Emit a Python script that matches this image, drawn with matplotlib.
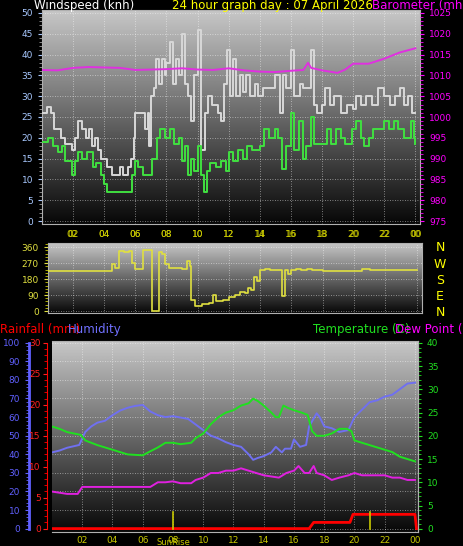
import numpy as np
import matplotlib
matplotlib.use("Agg")
import matplotlib.pyplot as plt

# ---------------- data ----------------
gust_h = [0,0.3,0.6,0.8,1.2,1.5,1.9,2.1,2.3,2.6,2.8,3.0,3.2,3.4,3.6,3.8,4.2,4.5,5.0,5.2,5.5,5.7,5.9,6.0,6.4,6.6,6.8,6.9,7.0,7.2,7.3,7.5,7.7,7.9,8.0,8.2,8.4,8.6,8.8,9.0,9.2,9.4,9.6,9.8,10.0,10.2,10.5,10.7,10.9,11.3,11.5,11.7,11.9,12.1,12.3,12.5,12.7,12.9,13.1,13.4,13.7,13.9,14.2,14.7,15.0,15.3,15.5,15.7,16.0,16.2,16.6,16.8,17.3,17.5,17.7,18.0,18.2,18.5,18.8,19.2,19.6,20.0,20.2,20.5,20.8,21.2,21.6,22.0,22.4,22.7,23.0,23.3,23.5,23.8,24.0]
gust_v = [26,27.5,26,22,20,18.5,17,20,24,22,20,22,18,20,17,15,13,11,13,11,13,15,20,26,26,22,26,18,30,32,39,33,39,35,38,43,33,39,35,45,33,30,24,35,46,17,26,30,28,26,24,33,41,30,39,30,35,31,35,30,33,30,32,32,35,26,35,32,41,30,33,32,41,28,26,28,32,28,30,26,28,27,30,28,30,28,32,30,28,30,32,28,30,26,26]
avg_h = [0,0.4,0.7,1.0,1.3,1.5,1.9,2.1,2.3,2.6,2.9,3.3,3.5,3.8,4.0,4.2,5.0,5.6,5.8,6.0,6.2,6.5,7.1,7.4,7.6,7.9,8.2,8.5,8.8,9.0,9.2,9.4,9.6,9.8,10.0,10.2,10.4,10.6,10.8,11.2,11.5,11.8,12.0,12.3,12.6,12.9,13.2,13.5,14.0,14.3,14.6,15.0,15.2,15.4,15.7,16.0,16.2,16.5,16.8,17.0,17.3,17.5,18.0,18.3,18.6,18.9,19.2,19.5,19.9,20.2,20.5,20.7,21.0,21.3,21.8,22.0,22.3,22.6,22.9,23.3,23.7,23.9,24.0]
avg_v = [19,20,18,16.5,18,14.5,11,14.5,16.5,15,16.5,13,14,11,9,7,7,7,11,14.5,13,11,15,20,22,20,22,18.5,20,14.5,18,11,15,12,18,11,7,12,14,13,14.5,12,16.5,14.5,17,15,18,17,18,22,20,22,20,12.5,18,26,17,24,15,18,25,18.5,18.5,22,18.5,22,20,18.5,22,24,20,18,20,22,22,24,22,24,22,20,24,20,18.5]
baro_h = [0,1,2,3,4,5,6,7,8,9,10,11,12,13,14,15,16,16.8,17.1,17.3,18,19,19.5,20,21,22,23,24]
baro_v = [1011.3,1011.2,1011.8,1012,1011.9,1011.8,1011.3,1011.4,1011.5,1011.7,1011.4,1011.3,1011.7,1011.2,1010.9,1010.8,1011.1,1011.3,1013,1011.8,1011.2,1010.6,1011.4,1012.8,1012.8,1014,1015.5,1016.5]
dir_h = [0,4.3,4.5,4.7,5.0,5.3,5.6,5.8,6.0,6.3,6.5,7.0,7.1,7.4,7.5,7.7,7.9,8.2,8.6,9.0,9.3,9.5,9.6,9.8,10.3,10.7,11.0,11.2,11.6,12.0,12.4,12.7,13.0,13.2,13.4,13.6,13.8,14.0,14.3,14.6,15.2,15.4,15.6,15.8,16.0,16.3,16.6,17.0,17.3,18,20,20.5,21,24]
dir_v = [225,225,265,245,340,335,340,270,240,235,345,345,0,0,335,320,265,245,245,240,285,255,60,30,40,45,90,55,60,80,90,110,100,130,120,190,170,230,240,230,230,85,230,210,230,240,230,235,230,225,225,235,230,230]
hum_h = [0,0.5,1.0,1.8,2.2,2.6,3.0,3.5,4.0,4.5,5.0,5.5,6.0,6.5,7.0,7.5,8.0,9.0,9.5,10.0,10.5,11.0,11.5,12.0,12.5,13.0,13.3,13.6,14.0,14.5,14.8,15.2,15.4,15.8,16.0,16.4,16.8,17.0,17.5,17.7,18.0,18.5,19.0,19.6,20.0,20.5,21.0,21.5,22.0,22.5,23.0,23.5,24.0]
hum_v = [41,42,43.5,45,52,55,57,58,61,63.5,65,66,66.5,63,61,60,60.5,59,56,53,50,48.5,46.5,45,44,40,37,38,39,41,44,41,43,43,48,44,45,55,62,60,55,54,52,53,60,64,68,69,71,72,75,78,78.5]
temp_h = [0,0.5,1,1.9,2.2,3,4,5,6,6.4,7,7.5,8,8.5,9.2,9.5,10,10.5,11,11.5,12,12.5,13,13.3,13.6,14,14.5,14.8,15.0,15.3,15.6,16,16.5,16.9,17.2,17.5,18,18.5,19,19.5,19.8,20,20.5,21,22,22.5,23,24]
temp_v = [22,21.5,20.8,20.2,19,18,17,16,15.8,16.5,17.5,18.5,18.5,18.2,18.5,19.5,20.5,22.5,24,25,25.5,26.5,27,28,27.5,26.5,25,24,24,26.5,26,25.5,25,24.5,21,20,20,20.5,21.5,21.5,21,19,18.5,18,17,16.5,15.5,14.5]
dew_h = [0,1,1.7,2,3,4,5,6,6.5,7,7.5,8,8.5,9.2,9.5,10,10.5,11,11.5,12,12.5,13,13.5,14,15,15.5,16,16.3,16.7,17,17.3,17.5,18,18.5,19,19.6,20,20.5,21,21.5,22,22.5,23,23.5,24]
dew_v = [8,7.5,7.5,9,9,9,9,9,9,10,10,10.2,9.8,9.8,10.5,11,12,12,12.5,12.5,13,12.5,12,11.5,11,12,12.5,13.5,12,12,13.5,12,11.5,10.5,11,11.5,12,11.5,11.5,11.5,11.5,11,11,10.5,10.5]
rain_h = [0,17.0,17.3,19.7,19.9,24.0,24.1]
rain_v = [0,0,1,1,2.3,2.3,0]
sun_h = [8.0, 21.0]
hour_ticks = [2,4,6,8,10,12,14,16,18,20,22,24]
hour_labels = ["02","04","06","08","10","12","14","16","18","20","22","00"]

W, H = 464, 546
fig = plt.figure(figsize=(W/100, H/100), dpi=100, facecolor="black")

def px_axes(x0, y0, x1, y1):
    return fig.add_axes([x0/W, 1-y1/H, (x1-x0)/W, (y1-y0)/H])

grad = np.linspace(0.78, 0.03, 256).reshape(-1, 1)
def bg(ax):
    ax.set_facecolor("black")
    ax.imshow(grad, cmap="gray", vmin=0, vmax=1, aspect="auto",
              extent=[0, 1, 0, 1], transform=ax.transAxes, zorder=0)
    ax.grid(True, color="white", linestyle=(0, (1, 2)), linewidth=0.6, alpha=0.6)
    for s in ax.spines.values():
        s.set_color("#b0b0b0")

fs = 6.5
# ---------- top panel ----------
ax = px_axes(42, 10, 420, 224)
bg(ax)
ax.set_xlim(0, 24.3); ax.set_ylim(-0.7, 50.7)
ax.step(gust_h, gust_v, where="post", color="#d8d8d8", lw=1.4, zorder=3)
ax.step(avg_h, avg_v, where="post", color="#40e040", lw=1.4, zorder=4)
ax.set_yticks(range(0, 51, 5))
ax.set_xticks(hour_ticks); ax.set_xticklabels(hour_labels)
ax.tick_params(axis="y", colors="#a8c8ff", labelsize=fs, length=3)
ax.tick_params(axis="x", colors="#c8c800", labelsize=fs, length=0, pad=4)
ax.yaxis.set_minor_locator(matplotlib.ticker.MultipleLocator(1))
ax.tick_params(axis="y", which="minor", color="#a0a0a0", length=2)
ax2 = ax.twinx()
ax2.set_ylim(975 - 0.7, 1025.7)
ax2.plot(baro_h, baro_v, color="#e030e0", lw=1.4, zorder=5)
ax2.set_yticks(range(975, 1026, 5))
ax2.tick_params(axis="y", colors="#ff00ff", labelsize=fs, length=3)
ax2.yaxis.set_minor_locator(matplotlib.ticker.MultipleLocator(1))
ax2.tick_params(axis="y", which="minor", color="#ff00ff", length=2)
for s in ax2.spines.values():
    s.set_visible(False)

fig.text(34/W, 1-(-1)/H, "Windspeed (knh)", color="white", fontsize=8.5, va="top")
fig.text(172/W, 1-(-1)/H, "24 hour graph day : 07 April 2026", color="#ffff00", fontsize=8.5, va="top")
fig.text(372/W, 1-(-1)/H, "Barometer (mh)", color="#ff00ff", fontsize=8.5, va="top")

# ---------- middle panel ----------
am = px_axes(48, 243, 422, 313)
bg(am)
am.set_xlim(0.43, 24.35); am.set_ylim(-11, 384)
am.plot(dir_h, dir_v, color="#e0e040", lw=1.2, zorder=3, drawstyle="steps-post")
am.set_yticks([0, 90, 180, 270, 360])
am.set_xticks(hour_ticks); am.set_xticklabels(hour_labels)
am.xaxis.tick_top()
am.tick_params(axis="x", colors="#c8c800", labelsize=fs, length=0, pad=3)
am.tick_params(axis="y", colors="#e0e040", labelsize=fs, length=3)
am.yaxis.set_minor_locator(matplotlib.ticker.MultipleLocator(18))
am.tick_params(axis="y", which="minor", color="#c8c800", length=2)
for i, l in enumerate("NWSEN"):
    fig.text(440/W, 1-(248+i*16)/H, l, color="#ffff00", fontsize=9, ha="center", va="center")

# ---------- bottom panel ----------
ab = px_axes(52, 341, 418, 532)
bg(ab)
ab.set_xlim(0, 24.2); ab.set_ylim(-1.8, 100.9)
ab.plot(hum_h, hum_v, color="#7070f0", lw=1.4, zorder=3)
ab.set_yticks(range(0, 101, 10))
ab.spines["left"].set_position(("outward", 16.5))
ab.spines["left"].set_color("#6060ff"); ab.spines["left"].set_linewidth(2)
ab.spines["left"].set_bounds(0, 100)
ab.tick_params(axis="y", colors="#6060ff", labelsize=fs, length=3)
ab.yaxis.set_minor_locator(matplotlib.ticker.MultipleLocator(2))
ab.tick_params(axis="y", which="minor", color="#6060ff", length=2)
ab.set_xticks(hour_ticks); ab.set_xticklabels(hour_labels)
ab.tick_params(axis="x", colors="#c8c800", labelsize=fs, length=0, pad=3)

ar = ab.twinx()
ar.set_ylim(-0.55, 30.3)
ar.yaxis.tick_left(); ar.yaxis.set_label_position("left")
ar.spines["left"].set_visible(True)
ar.spines["left"].set_position(("outward", 3.5))
ar.spines["left"].set_color("#ff0000")
ar.spines["left"].set_bounds(0, 30)
for k in ("right", "top", "bottom"):
    ar.spines[k].set_visible(False)
ar.set_yticks(range(0, 31, 5))
ar.tick_params(axis="y", colors="#ff2020", labelsize=fs, length=3, pad=1.5)
ar.yaxis.set_minor_locator(matplotlib.ticker.MultipleLocator(1))
ar.tick_params(axis="y", which="minor", color="#ff0000", length=2)
ar.plot(rain_h, rain_v, color="#ff0000", lw=2, zorder=6)

at = ab.twinx()
at.set_ylim(-0.7, 40.4)
at.plot(temp_h, temp_v, color="#20e020", lw=1.4, zorder=4)
at.plot(dew_h, dew_v, color="#e020e0", lw=1.4, zorder=4)
for sh in sun_h:
    at.plot([sh, sh], [0, 3.5], color="#c8c800", lw=1.2, zorder=5)
at.set_yticks(range(0, 41, 5))
at.tick_params(axis="y", colors="#20e020", labelsize=fs, length=3)
at.yaxis.set_minor_locator(matplotlib.ticker.MultipleLocator(1))
at.tick_params(axis="y", which="minor", color="#20e020", length=2)
for k in ("left", "top", "bottom"):
    at.spines[k].set_visible(False)
at.spines["right"].set_color("#b0b0b0")
at.text(sun_h[0], -0.03, "SunRise", color="#c8c800", fontsize=6, ha="center", va="top",
        transform=at.get_xaxis_transform())

fig.text(0, 1-330/H, "Rainfall (mm)", color="#ff0000", fontsize=8.5, va="center")
fig.text(68/W, 1-330/H, "Humidity", color="#7070ff", fontsize=8.5, va="center")
fig.text(313/W, 1-330/H, "Temperature (C)", color="#20e020", fontsize=8.5, va="center")
fig.text(395/W, 1-330/H, "Dew Point (C)", color="#ff00ff", fontsize=8.5, va="center")

fig.savefig("out.png", dpi=100, facecolor="black")
